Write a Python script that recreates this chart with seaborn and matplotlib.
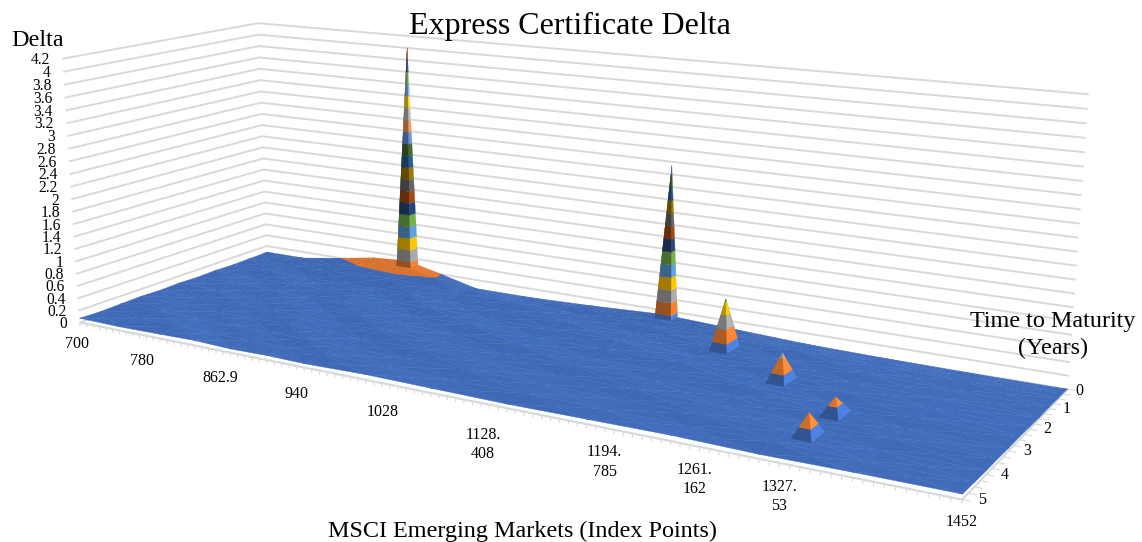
import numpy as np
import matplotlib
matplotlib.use('Agg')
import matplotlib.pyplot as plt
import seaborn as sns
from mpl_toolkits.mplot3d import proj3d
from mpl_toolkits.mplot3d.art3d import Poly3DCollection

# ---------- data ----------
title = "Express Certificate Delta"
category_count = 103
category_labels = ["700", "780", "862.9", "940", "1028", "1128.\n408", "1194.\n785", "1261.\n162", "1327.\n53", "1452"]
category_label_index = [0, 9, 20, 31, 42, 54, 68, 78, 86, 103]
maturity_labels = [0, 1, 2, 3, 4, 5]
delta_ticks = [0, .2, .4, .6, .8, 1, 1.2, 1.4, 1.6, 1.8, 2, 2.2, 2.4, 2.6, 2.8, 3, 3.2, 3.4, 3.6, 3.8, 4, 4.2]

surface_index = [0, 6, 12, 17, 22, 27, 32, 40, 48, 57, 66, 75, 84, 93, 103]
surface_maturity = [0, .25, .5, 1, 1.5, 2, 2.5, 3, 3.5, 4, 4.5, 5]
surface_delta = [
    [.09, .09, .20, .30, .34, .20, .05, .05, .08, .13, .08, .03, .01, .00, .00],
    [.08, .09, .11, .24, .30, .21, .08, .06, .09, .10, .07, .05, .03, .02, .01],
    [.08, .07, .09, .11, .15, .11, .07, .08, .06, .08, .06, .07, .04, .03, .01],
    [.07, .08, .06, .08, .07, .09, .06, .07, .08, .06, .07, .05, .06, .03, .02],
    [.08, .06, .08, .07, .08, .06, .08, .06, .07, .08, .05, .07, .05, .04, .02],
    [.07, .08, .07, .06, .08, .07, .06, .08, .06, .07, .08, .06, .06, .05, .03],
    [.08, .07, .06, .08, .06, .08, .07, .06, .08, .06, .07, .08, .05, .06, .04],
    [.07, .06, .08, .07, .07, .06, .08, .07, .06, .08, .07, .06, .07, .05, .04],
    [.08, .07, .07, .06, .08, .07, .06, .08, .07, .06, .08, .07, .06, .06, .05],
    [.07, .08, .06, .07, .06, .08, .07, .06, .08, .07, .06, .08, .07, .05, .05],
    [.06, .07, .08, .06, .07, .06, .08, .07, .06, .08, .07, .06, .08, .06, .06],
    [.07, .06, .07, .08, .06, .07, .06, .08, .07, .06, .07, .08, .06, .07, .07],
]
spike_index = [22.6, 58, 68, 77.5, 86, 86]
spike_maturity = [0, 0, 1, 2, 4, 3]
spike_delta = [4.0, 2.54, .84, .48, .38, .31]
spike_base = [.30, .13, .07, .07, .07, .07]

band_colors = ["#4472C4", "#ED7D31", "#A5A5A5", "#FFC000", "#5B9BD5", "#70AD47", "#264478",
               "#9E480E", "#636363", "#997300", "#255E91", "#43682B", "#698ED0", "#F1975A",
               "#B7B7B7", "#FFCD33", "#7CAFDD", "#8CC168", "#335AA1", "#D26012", "#848484"]

# ---------- theme ----------
sns.set_theme(style="white")
plt.rcParams['font.family'] = ['Liberation Serif', 'DejaVu Serif']
palette = np.array(sns.color_palette(band_colors))
GRID = "#D9D9D9"
TEXT = "#000000"

fig = plt.figure(figsize=(11.42, 5.42), dpi=100, facecolor="white")
ax = fig.add_subplot(projection='3d', computed_zorder=False)
ax.set_position([13.3 / 1142, (542 - 748.7) / 542, 1035 / 1142, 1035 / 542])
ax.patch.set_visible(False)
ASPECT = (1, .3250, .2935)
ax.set_xlim(0, category_count)
ax.set_ylim(5, 0)
ax.set_zlim(0, 4.2)
ax.set_xticks([])
ax.set_yticks([])
ax.set_zticks([])
ax.set_axis_off()
ax.set_box_aspect(ASPECT)
ax.view_init(elev=13.7077, azim=-59.426, roll=.0803)
ax.set_proj_type('persp', focal_length=.3279)

BAND = .2


def clip(poly, level, keep_above):
    out = []
    for i in range(len(poly)):
        a, b = poly[i], poly[(i + 1) % len(poly)]
        ina = a[2] >= level if keep_above else a[2] <= level
        inb = b[2] >= level if keep_above else b[2] <= level
        if ina:
            out.append(a)
        if ina != inb:
            t = (level - a[2]) / (b[2] - a[2])
            out.append(tuple(a[k] + t * (b[k] - a[k]) for k in range(3)))
    return out


def normal(tri, z_gain=1.0):
    p = np.array(tri, float)
    p = p * np.array([ASPECT[0] / category_count, -ASPECT[1] / 5, z_gain * ASPECT[2] / 4.2])
    n = np.cross(p[1] - p[0], p[2] - p[0])
    n = n / (np.linalg.norm(n) + 1e-12)
    return -n if n[2] < 0 else n


def banded(tri, factor, low_factor):
    polys, cols = [], []
    zs = [v[2] for v in tri]
    for b in range(int(min(zs) // BAND), min(int(max(zs) // BAND), len(palette) - 1) + 1):
        poly = clip(clip(list(tri), b * BAND, True), (b + 1) * BAND, False)
        if len(poly) >= 3:
            polys.append(poly)
            f = low_factor if b == 0 else factor
            cols.append(tuple(np.clip(palette[b] * f, 0, 1)))
    return polys, cols


def label3d(x, y, z, s, **kw):
    """Plain text at the screen position of a 3D data point."""
    u, v, _ = proj3d.proj_transform(x, y, z, ax.get_proj())
    ax.text2D(float(u), float(v), s, transform=ax.transData, va='center', color=TEXT, clip_on=False, **kw)


# ---------- walls ----------
for z in delta_ticks:
    ax.plot([0, 0, category_count], [5, 0, 0], [z, z, z], color=GRID, lw=1.4, zorder=1,
            solid_joinstyle='miter', clip_on=False)

# ---------- floor axes ----------
tx, ty, tz = [], [], []
for i in range(category_count + 1):
    tx += [i, i, np.nan]
    ty += [5, 5, np.nan]
    tz += [0, -.055, np.nan]
ax.plot(tx, ty, tz, color=GRID, lw=.8, zorder=1.4, clip_on=False)
tx, ty, tz = [], [], []
for t in np.arange(0, 5.01, .25):
    tx += [category_count, category_count + .7, np.nan]
    ty += [t, t, np.nan]
    tz += [0, 0, np.nan]
ax.plot(tx, ty, tz, color=GRID, lw=.8, zorder=1.4, clip_on=False)
ax.plot([0, category_count, category_count], [5, 5, 0], [0, 0, 0], color=GRID, lw=1.6, zorder=1.5, clip_on=False)

# ---------- surface ----------
sx = np.array(surface_index, float)
st = np.array(surface_maturity, float)
sz = np.array(surface_delta, float)
polys, cols = [], []
for r in range(len(st) - 1):
    for c in range(len(sx) - 1):
        q = [(sx[c], st[r], sz[r, c]), (sx[c + 1], st[r], sz[r, c + 1]),
             (sx[c + 1], st[r + 1], sz[r + 1, c + 1]), (sx[c], st[r + 1], sz[r + 1, c])]
        mid = tuple(np.mean(q, axis=0))
        for k in range(4):
            tri = (q[k], q[(k + 1) % 4], mid)
            n = normal(tri, 3.0)
            f = .94 + np.clip(.20 * n[0] + .15 * n[1], -.025, .025)
            p, co = banded(tri, f, f)
            polys += p
            cols += co
coll = Poly3DCollection(polys, facecolors=cols, edgecolors=cols, linewidths=.3, zorder=2)
ax.add_collection3d(coll, autolim=False)
coll.set_clip_on(False)

# ---------- spikes ----------
polys, cols = [], []
for i, t, d, b in zip(spike_index, spike_maturity, spike_delta, spike_base):
    tip = (i, t, d)
    front = t + .25
    back = max(t - .25, 0)
    faces = []
    if t > 0:
        faces.append(((i - 1, back, b), (i + 1, back, b), tip))
    faces.append(((i - 1, back, b), (i - 1, front, b), tip))
    faces.append(((i + 1, back, b), (i + 1, front, b), tip))
    faces.append(((i - 1, front, b), (i + 1, front, b), tip))
    for tri in faces:
        n = normal(tri)
        f = .60 + .45 * n[2] + .42 * max(n[0], 0)
        low = 1.15 if n[0] > .3 else .74
        p, co = banded(tri, f, low)
        polys += p
        cols += co
coll = Poly3DCollection(polys, facecolors=cols, edgecolors=cols, linewidths=.2, zorder=4)
ax.add_collection3d(coll, autolim=False)
coll.set_clip_on(False)

# ---------- tick labels ----------
label_nudge = [-.6, .2, .5, -.2, 0, .2, 0, -.4, .1, .1]
label_drop = [.37, .42, .43, .43, .44, .60, .48, .46, .45, .29]
for i, lab, nud, drop in zip(category_label_index, category_labels, label_nudge, label_drop):
    label3d(i + nud, 5, -drop, lab, ha='center', fontsize=11.5, linespacing=1.3)
for m in maturity_labels:
    label3d(category_count + (1.2 if m == 0 else 1.7), m, .04 if m else 0, str(m), ha='center', fontsize=11.5)
for z in delta_ticks:
    label3d(-1.0, 5.15, z - .01, f"{z:g}", ha='right', fontsize=11.2)

# ---------- titles ----------
fig.text(570 / 1142, 1 - 26.5 / 542, title, ha='center', va='center', fontsize=23, color=TEXT)
fig.text(38 / 1142, 1 - 40 / 542, "Delta", ha='center', va='center', fontsize=17.4, color=TEXT)
fig.text(522 / 1142, 1 - 531 / 542, "MSCI Emerging Markets (Index Points)", ha='center', va='center', fontsize=17.4, color=TEXT)
fig.text(1053 / 1142, 1 - 335 / 542, "Time to Maturity\n(Years)", ha='center', va='center', fontsize=17.4, color=TEXT, linespacing=1.4)

fig.savefig('out.png', dpi=100, facecolor='white')
